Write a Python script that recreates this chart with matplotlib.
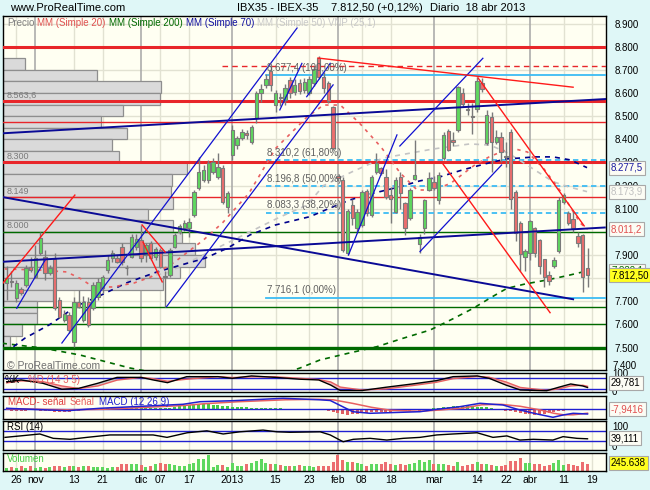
import matplotlib
matplotlib.use("Agg")
import matplotlib.pyplot as plt
import matplotlib.transforms as mtransforms
from matplotlib.patches import Rectangle
import numpy as np

plt.rcParams['font.family'] = ['Liberation Sans', 'DejaVu Sans']

# ---------------- data (daily candles, 24 oct 2012 .. 18 abr 2013) ----------------
opens = [7779, 7787, 7713, 7753, 7771, 7847, 7807, 7907, 7893, 7821,
         7881, 7706, 7619, 7641, 7526, 7698, 7619, 7698, 7670, 7720,
         7756, 7835, 7886, 7886, 7936, 7845, 7893, 7936, 7965, 7900,
         7950, 7890, 7922, 7810, 7814, 7936, 8001, 8018, 8015, 8073,
         8188, 8224, 8224, 8260, 8238, 8275, 8109, 8332, 8375, 8404,
         8429, 8390, 8492, 8601, 8634, 8696, 8548, 8584, 8570, 8656,
         8605, 8645, 8613, 8600, 8642, 8750, 8670, 8642, 8541, 8240,
         8224, 7907, 8116, 8015, 8030, 8178, 8073, 8260, 8274, 8239,
         8160, 8087, 8239, 8123, 8058, 8230, 7948, 8015, 8181, 8217,
         8138, 8318, 8437, 8395, 8440, 8598, 8532, 8500, 8529, 8642,
         8382, 8498, 8390, 8411, 8328, 8433, 8174, 8040, 7893, 7907,
         8015, 7965, 7881, 7814, 7853, 7919, 8130, 8083, 8054, 7982,
         7987, 7845]
highs = [7853, 7830, 7792, 7760, 7857, 7893, 7943, 8001, 7922, 7857,
         7907, 7720, 7663, 7655, 7720, 7749, 7723, 7720, 7785, 7800,
         7814, 7900, 7922, 7900, 7950, 7857, 7990, 7990, 8030, 7950,
         7960, 7935, 7930, 7830, 7930, 7995, 8035, 8050, 8058, 8180,
         8325, 8290, 8310, 8320, 8340, 8290, 8175, 8460, 8415, 8445,
         8440, 8462, 8610, 8640, 8680, 8720, 8612, 8600, 8640, 8670,
         8660, 8660, 8665, 8675, 8715, 8760, 8690, 8650, 8545, 8245,
         8235, 8100, 8140, 8100, 8180, 8185, 8245, 8340, 8280, 8270,
         8195, 8238, 8260, 8130, 8190, 8397, 7990, 8140, 8260, 8240,
         8260, 8430, 8445, 8430, 8630, 8620, 8555, 8555, 8670, 8665,
         8525, 8520, 8440, 8430, 8390, 8445, 8180, 8045, 7925, 8052,
         8020, 7970, 7885, 7830, 7890, 8150, 8170, 8090, 8090, 8000,
         7990, 7930]
lows = [7706, 7760, 7699, 7728, 7763, 7828, 7799, 7900, 7792, 7814,
        7663, 7627, 7612, 7562, 7504, 7670, 7612, 7591, 7663, 7706,
        7735, 7824, 7871, 7864, 7857, 7814, 7886, 7920, 7871, 7870,
        7880, 7880, 7845, 7677, 7805, 7930, 7990, 8005, 7980, 8065,
        8180, 8215, 8210, 8250, 8230, 8120, 8080, 8310, 8360, 8395,
        8400, 8380, 8470, 8560, 8620, 8610, 8520, 8545, 8550, 8580,
        8590, 8595, 8600, 8590, 8630, 8660, 8600, 8555, 8355, 8220,
        7915, 7900, 8030, 8000, 8020, 8070, 8065, 8250, 8245, 8140,
        8040, 8080, 8100, 7985, 8050, 8225, 7910, 7990, 8175, 8180,
        8120, 8310, 8350, 8370, 8430, 8540, 8505, 8425, 8520, 8605,
        8375, 8260, 8380, 8300, 8280, 8100, 7960, 7830, 7830, 7880,
        7890, 7820, 7760, 7770, 7845, 7910, 8120, 8030, 8000, 7935,
        7742, 7760]
closes = [7800, 7785, 7778, 7735, 7843, 7835, 7889, 7972, 7821, 7843,
          7670, 7634, 7645, 7576, 7698, 7677, 7698, 7598, 7771, 7785,
          7807, 7879, 7910, 7871, 7871, 7843, 7976, 7968, 7886, 7943,
          7886, 7925, 7850, 7804, 7922, 7986, 8025, 8040, 8044, 8174,
          8260, 8267, 8296, 8303, 8282, 8131, 8167, 8440, 8404, 8433,
          8419, 8455, 8601, 8616, 8659, 8634, 8598, 8577, 8621, 8600,
          8634, 8610, 8649, 8659, 8702, 8670, 8620, 8565, 8361, 8231,
          7922, 8092, 8058, 8087, 8174, 8080, 8239, 8299, 8253, 8152,
          8140, 8224, 8167, 8015, 8181, 8245, 7980, 8138, 8231, 8188,
          8246, 8418, 8354, 8390, 8627, 8552, 8527, 8496, 8653, 8616,
          8505, 8390, 8411, 8346, 8325, 8141, 7994, 7904, 7919, 8048,
          7907, 7853, 7806, 7789, 7878, 8138, 8159, 8040, 8015, 7950,
          7803, 7812.5]
volumes = [120, 144, 120, 168, 120, 168, 120, 144, 120, 144,
           192, 168, 144, 168, 192, 144, 168, 192, 144, 144,
           144, 120, 144, 144, 240, 240, 240, 264, 204, 144,
           168, 240, 288, 240, 240, 216, 192, 192, 264, 288,
           432, 432, 564, 144, 216, 216, 144, 288, 168, 192,
           264, 288, 360, 432, 288, 264, 264, 216, 168, 192,
           168, 216, 192, 168, 144, 168, 168, 192, 324, 564,
           408, 324, 324, 288, 240, 168, 240, 264, 264, 324,
           240, 204, 240, 204, 264, 288, 384, 324, 384, 264,
           240, 240, 204, 168, 324, 168, 204, 240, 312, 240,
           240, 204, 168, 168, 204, 360, 360, 480, 288, 288,
           240, 240, 192, 204, 288, 408, 204, 240, 204, 192,
           324, 245.638]

tick_pos = [2, 6, 14, 20, 28, 32, 38, 47, 56, 63, 69, 74, 80, 89, 98, 104, 109, 116, 122]
tick_labels = ['26', 'nov', '13', '21', 'dic', '07', '17', '2013', '15', '23',
               'feb', '08', '18', 'mar', '14', '22', 'abr', '11', '19']
month_labels = ['nov', 'dic', '2013', 'feb', 'mar', 'abr']

# moving averages (day index, value)
mm20_idx = [-0.4, 7, 12.5, 15.5, 18, 22, 26.5, 30, 35, 41, 45, 50.5, 56, 62.5, 66, 69.5,
            73.5, 78, 82, 85.5, 89, 92.5, 97.5, 100.5, 105, 108.5, 112, 115.5, 119.5, 121]
mm20_val = [7840, 7835, 7827, 7797, 7762, 7762, 7779, 7805, 7870, 7965, 8040, 8168, 8360, 8495,
            8548, 8548, 8470, 8366, 8254, 8181, 8181, 8210, 8289, 8324, 8363, 8345, 8270, 8172,
            8038, 8011]
mm200_idx = [-1, 7.6, 15.3, 25.7, 35, 45, 55, 61.1, 65.3, 71, 77.1, 82.5, 88.2, 93, 97.2,
             101, 104.2, 108, 112.5, 117, 121]
mm200_val = [7519, 7498, 7468, 7412, 7375, 7360, 7370, 7412, 7447, 7475, 7504, 7540, 7576,
             7625, 7670, 7718, 7756, 7775, 7792, 7812, 7832]
mm70_idx = [1.4, 3.8, 9, 14.6, 20, 25, 31.3, 36, 41.3, 46, 50.7, 56, 63.2, 67, 71.5, 76,
            81.9, 86, 90.3, 95, 100.1, 104, 106.9, 110, 113.8, 117.4, 120.9]
mm70_val = [7504, 7541, 7600, 7680, 7730, 7780, 7827, 7855, 7886, 7930, 7987, 8030, 8066,
            8100, 8138, 8165, 8195, 8220, 8238, 8268, 8296, 8315, 8319, 8324, 8324, 8311, 8277.5]
mm50_idx = [25, 33.4, 43.8, 52.8, 56.9, 62.6, 66, 72, 78.4, 88.8, 96.5, 100.7, 104.5, 108.4,
            113.8, 117, 120.9]
mm50_val = [7790, 7823, 7930, 8022, 8064, 8116, 8200, 8260, 8319, 8358, 8380, 8375, 8340,
            8289, 8217, 8195, 8173.9]

# volume-at-price profile (bin top price, relative volume)
vp_top = [8750, 8700, 8650, 8600, 8550, 8500, 8450, 8400, 8350, 8300, 8250, 8200, 8150,
          8100, 8050, 8000, 7950, 7900, 7850, 7800, 7750, 7700, 7650, 7600, 7550]
vp_vol = [22, 94, 158, 157, 120, 98, 124, 109, 116, 184, 169, 168, 170, 145, 170, 179, 192,
          202, 177, 160, 50, 34, 34, 19, 7]

# horizontal levels
red_thick_levels = [8800, 8563.6, 8300]
red_thin_levels = [8476, 8149]
green_thin_levels = [8000, 7675, 7600]
green_thick_levels = [7500]
red_dashed_level = (44.8, 8717)
fib_start = 54.0
fib_levels = [8677.4, 8310.2, 8196.8, 8083.3, 7716.1]
fib_texts = ['8.677,4 (100,00%)', '8.310,2 (61,80%)', '8.196,8 (50,00%)', '8.083,3 (38,20%)',
             '7.716,1 (0,00%)']
level_labels = [(8563.6, '8.563,6'), (8300, '8.300'), (8149, '8.149'), (8000, '8.000')]

# trend lines ((index, price), (index, price))
blue_long = [((-0.77, 8150), (118.0, 7709)), ((-0.77, 7871), (124.6, 8019)),
             ((-0.77, 8426), (124.85, 8574))]
blue_short = [((11.5, 7520), (60.5, 8881)), ((33.3, 7677), (68.0, 8635)),
              ((71.2, 7900), (81.3, 8419)), ((81.9, 8371), (99.2, 8750)),
              ((86.1, 7915), (103.1, 8289)), ((56.9, 8527), (61.5, 8728)),
              ((62.5, 8584), (67.4, 8728)), ((2.1, 7670), (8.0, 7878))]
red_trend = [((64.85, 8751), (118.0, 8625)), ((-0.77, 7779), (14.2, 8159)),
             ((28.2, 8030), (33.0, 7913)), ((28.4, 7956), (32.4, 7784)),
             ((90.9, 8293), (113.2, 7651)), ((98.2, 8665), (120.3, 8026))]

# oscillators
stoch_idx = [0, 3, 7.5, 11.5, 15, 19, 23, 28, 30.5, 33.5, 37.5, 44, 47, 51, 56, 61, 65, 67.5,
             69.5, 74, 79, 84.5, 89.5, 93, 98, 100.5, 104, 107, 112.5, 115, 117.5, 120, 121]
stoch_k = [61, 71, 53, 20, 25, 53, 85, 85, 71, 56, 89, 89, 80, 93, 85, 75, 71, 43, 13, 13,
           31, 49, 67, 89, 93, 80, 43, 16, 12, 31, 49, 38, 29.781]
stoch_d = [55, 66, 62, 38, 24, 38, 70, 85, 78, 64, 75, 89, 84, 88, 88, 80, 73, 60, 32, 16,
           22, 40, 58, 78, 90, 86, 60, 30, 14, 22, 38, 42, 36]
macd_idx = [0, 12.6, 19.4, 26.3, 36.7, 40.3, 47.1, 57.6, 65.3, 67.4, 72.1, 75.7, 86.1, 89.6,
            94.4, 98.6, 103.4, 106.9, 110.5, 113.8, 115.9, 118, 121]
macd_val = [10, -14, 10, 26, 50, 76, 86, 110, 95, 88, -24, -40, -24, 0, 26, 60, 43, -7, -47,
            -80, -57, -40, -47]
signal_idx = [0, 13, 20, 27, 37, 41, 48, 58, 65, 68, 72, 76, 80, 86, 90, 95, 99, 103, 107,
              111, 114, 116, 118, 121]
signal_val = [5, -5, 0, 15, 38, 55, 75, 95, 100, 95, 60, 20, -10, -20, -8, 12, 45, 50, 30, -5,
              -40, -55, -55, -39]
macd_hist = [-10, -12, -15, -15, -12, -8, -10, -15, -18, -20, -22, -25, -25,
             -22, -18, -12, -8, -3, 2, 6,
             10, 14, 18, 20, 20, 18, 16, 14, 14, 16, 18, 15, 12, 12,
             18, 25, 32, 38, 42, 48, 52, 55, 52, 48, 42, 35, 30, 28,
             25, 22, 20, 18, 17, 16, 15, 13, 11, 10, 8,
             6, 4, 2, 0, -2, -4, -6,
             -10, -18, -28, -38, -48, -52, -50, -45, -40, -35, -30, -28, -26, -24, -22, -20,
             -18, -15, -12, -10,
             -12, -8,
             5, 10, 15, 20, 25, 30, 32, 35, 33, 30, 28, 25, 20, 14,
             5, -5, -12, -20, -30, -38, -45, -50, -52, -50, -45, -38, -30, -20,
             -12, -5, 2, 4, -2, -7.9416]
rsi_idx = [-0.35, 2.8, 6.9, 9.7, 13.2, 16.7, 21.5, 26.3, 30.5, 33.4, 37.6, 41.7, 45.1, 48.6,
           53.4, 56.3, 59, 65.3, 67.4, 69.4, 70.1, 72.2, 75.7, 79.2, 82.6, 86.1, 89.6, 93,
           98, 101.3, 104.2, 106.9, 109.7, 113.8, 115.9, 118.8, 121]
rsi_val = [45, 51, 59, 41, 37, 45, 55, 55, 55, 45, 64, 72, 59, 68, 75, 68, 66, 68, 55, 34, 27,
           37, 41, 34, 41, 45, 55, 59, 64, 45, 51, 34, 37, 34, 48, 41, 39.111]

# ---------------- styling ----------------
W, H = 650, 490
BG = '#dff7f7'
PANEL = '#fffff2'
GREEN = '#5ed85e'
RED = '#ec6e6e'
EDGE = '#7a7a7a'
GRID_LIGHT = '#e2e2d2'
GRID_DARK = '#a6a6a6'
FS = 7.0
XMIN, XMAX = -0.77, 124.85

fig = plt.figure(figsize=(6.5, 4.9), dpi=100)
fig.patch.set_facecolor(BG)
renderer = fig.canvas.get_renderer()


def add_ax(x0, y0, x1, y1):
    a = fig.add_axes([x0 / W, 1 - y1 / H, (x1 - x0) / W, (y1 - y0) / H])
    a.set_facecolor(PANEL)
    a.set_xlim(XMIN, XMAX)
    for s in a.spines.values():
        s.set_color('black')
        s.set_linewidth(1)
    a.set_xticks([])
    a.tick_params(axis='both', length=0)
    for p, lab in zip(tick_pos, tick_labels):
        if lab in month_labels:
            a.axvline(p, color=GRID_DARK, lw=1.1, zorder=0.5)
        else:
            a.axvline(p, color=GRID_LIGHT, lw=1.0, zorder=0.5)
    return a


def ftext(x, y, s, **kw):
    kw.setdefault('fontsize', FS)
    kw.setdefault('va', 'center')
    return fig.text(x / W, 1 - y / H, s, **kw)


def seq_text(x, y, parts, gap, size=FS):
    for s, c in parts:
        t = ftext(x, y, s, color=c, fontsize=size)
        x += t.get_window_extent(renderer).width + gap


def fmt_price(v):
    v = int(round(v))
    return f"{v // 1000}.{v % 1000:03d}"


def vbox(a, val, s, fc, tc):
    t = mtransforms.blended_transform_factory(a.transAxes, a.transData)
    a.text(1.0 + 5 / 603, val, s, transform=t, fontsize=FS, color=tc, va='center',
           ha='left', clip_on=False, zorder=10,
           bbox=dict(boxstyle='square,pad=0.2', fc=fc, ec='#a8a8a8', lw=0.8))


def rtext(a, val, s):
    t = mtransforms.blended_transform_factory(a.transAxes, a.transData)
    a.text(1.0 + 6 / 603, val, s, transform=t, fontsize=FS, va='center', clip_on=False)


# ---------------- main price panel ----------------
ax = add_ax(3, 16, 606, 370)
ax.set_ylim(7403.4, 8932.6)
for v in range(7500, 8901, 100):
    ax.axhline(v, color=GRID_LIGHT, lw=1.0, zorder=0.4)
ax.yaxis.tick_right()
ax.set_yticks(list(range(7500, 8901, 100)))
ax.set_yticklabels([fmt_price(v) for v in range(7500, 8901, 100)], fontsize=FS)
ax.tick_params(axis='y', length=0, pad=6)
bt = mtransforms.blended_transform_factory(ax.transAxes, ax.transData)
ax.text(1.0 + 6 / 603, 7400, fmt_price(7400), transform=bt, fontsize=FS, va='bottom',
        clip_on=False)

# volume profile
vmax = max(vp_vol)
for top, vol in zip(vp_top, vp_vol):
    ax.add_patch(Rectangle((0, top - 50), vol / vmax * 0.335, 50, transform=bt,
                           fc='#dadada', ec='#8e8e8e', lw=0.9, zorder=1))
for lvl, lab in level_labels:
    ax.text(4 / 603, lvl + 8, lab, transform=bt, fontsize=FS - 0.5, color='#7a7a7a',
            va='bottom', zorder=6)

# horizontal levels
for v in red_thick_levels:
    ax.axhline(v, color='#e8262a', lw=2.2, zorder=3)
for v in red_thin_levels:
    ax.axhline(v, color='#e8262a', lw=1.0, zorder=3)
for v in green_thin_levels:
    ax.axhline(v, color='#006a00', lw=1.0, zorder=3)
for v in green_thick_levels:
    ax.axhline(v, color='#006a00', lw=2.4, zorder=3)
ax.plot([red_dashed_level[0], XMAX], [red_dashed_level[1]] * 2, color='#e8262a', lw=1.0,
        ls=(0, (4, 3)), zorder=3)
for k, (v, t) in enumerate(zip(fib_levels, fib_texts)):
    ls = '-' if k in (0, len(fib_levels) - 1) else (0, (3, 2))
    ax.plot([fib_start, XMAX], [v, v], color='#3cbcf4', lw=1.3, ls=ls, zorder=3)
    ax.text(fib_start + 0.3, v + 10, t, fontsize=FS, color='#606060', va='bottom', zorder=7)

# moving averages
ax.plot(mm200_idx, mm200_val, color='#006a00', lw=1.2, ls=(0, (3, 3)), zorder=3.5)
ax.plot(mm50_idx, mm50_val, color='#c4c4c4', lw=1.2, ls=(0, (3, 3)), zorder=3.5)
ax.plot(mm70_idx, mm70_val, color='#00008b', lw=1.2, ls=(0, (3, 3)), zorder=3.5)
ax.plot(mm20_idx, mm20_val, color='#e86060', lw=1.2, ls=(0, (2, 3)), zorder=3.5)

# candles
for i, (o, h, l, c) in enumerate(zip(opens, highs, lows, closes)):
    up = c >= o
    ax.plot([i, i], [l, h], color=EDGE, lw=1.0, zorder=4, solid_capstyle='butt')
    ax.add_patch(Rectangle((i - 0.37, min(o, c)), 0.74, max(abs(c - o), 2.0),
                           fc=GREEN if up else RED, ec=EDGE, lw=0.8, zorder=4.5))

# trend lines
for (a, b) in blue_long:
    ax.plot([a[0], b[0]], [a[1], b[1]], color='#0a0a96', lw=1.4, zorder=5)
for (a, b) in blue_short:
    ax.plot([a[0], b[0]], [a[1], b[1]], color='#1010d0', lw=0.9, zorder=5)
for (a, b) in red_trend:
    ax.plot([a[0], b[0]], [a[1], b[1]], color='#ff1a1a', lw=1.0, zorder=5)

vbox(ax, mm70_val[-1], '8.277,5', '#fcfcf4', '#1a1aa0')
vbox(ax, mm50_val[-1], '8.173,9', '#fcfcf4', '#c0c0c0')
vbox(ax, mm20_val[-1], '8.011,2', '#fcfcf4', '#e05050')
vbox(ax, mm200_val[-1], '7.832,1', '#fcfcf4', '#006a00')
vbox(ax, closes[-1], '7.812,50', '#ffff20', '#000000')

ax.text(4 / 603, 7422, '\u00a9 ProRealTime.com', transform=bt, fontsize=FS + 0.5,
        color='#707070', va='center')

# ---------------- stochastic ----------------
axs = add_ax(3, 373, 606, 392)
axs.set_ylim(5, 109)
axs.set_yticks([])
axs.axhline(80, color='#2020d0', lw=1.0)
axs.axhline(20, color='#2020d0', lw=1.0)
k = np.array(stoch_k)
d = np.array(stoch_d)
axs.fill_between(stoch_idx, k, d, where=k >= d, color='#c6c6c6', interpolate=True, lw=0)
axs.fill_between(stoch_idx, k, d, where=k < d, color='#f5b8b8', interpolate=True, lw=0)
axs.plot(stoch_idx, d, color='#e86060', lw=1.0)
axs.plot(stoch_idx, k, color='black', lw=1.0)
rtext(axs, 104, '100')
rtext(axs, 6, '0')
vbox(axs, 55, '29,781', '#fcfcf4', '#000000')

# ---------------- MACD ----------------
axm = add_ax(3, 395.5, 606, 418.5)
axm.set_ylim(-92, 138)
axm.set_yticks([])
axm.bar(range(len(macd_hist)), macd_hist, width=0.6,
        color=['#44cc44' if v >= 0 else '#e06060' for v in macd_hist], zorder=2)
axm.axhline(0, color='#2020d0', lw=1.0, zorder=2.5)
axm.plot(signal_idx, signal_val, color='#e86060', lw=1.1, zorder=3)
axm.plot(macd_idx, macd_val, color='#2020d0', lw=1.1, zorder=3)
vbox(axm, 0, '-7,9416', '#fcfcf4', '#e05050')

# ---------------- RSI ----------------
axr = add_ax(3, 421, 606, 449.5)
axr.set_ylim(-5, 112.5)
axr.set_yticks([])
axr.axhline(70, color='#2020d0', lw=1.0)
axr.axhline(30, color='#2020d0', lw=1.0)
axr.plot(rsi_idx, rsi_val, color='black', lw=1.0)
rtext(axr, 86, '100')
rtext(axr, 6, '0')
vbox(axr, 41, '39,111', '#fcfcf4', '#000000')

# ---------------- volume ----------------
axv = add_ax(3, 453, 606, 471)
axv.set_ylim(0, 648)
axv.set_yticks([])
axv.bar(range(len(volumes)), volumes, width=0.62,
        color=[GREEN if c >= o else RED for o, c in zip(opens, closes)], zorder=2)
vbox(axv, 300, '245.638', '#ffff20', '#000000')
axv.set_xticks(tick_pos)
axv.set_xticklabels(tick_labels, fontsize=FS + 0.5)
axv.tick_params(axis='x', length=0, pad=3)

# ---------------- header & panel titles ----------------
ftext(10, 8, 'www.ProRealTime.com', fontsize=8)
ftext(318, 8, 'IBX35 - IBEX-35', fontsize=8, ha='right')
ftext(331, 8, '7.812,50 (+0,12%)', fontsize=8)
ftext(430, 8, 'Diario  18 abr 2013', fontsize=8)

seq_text(7, 23, [('Precio', '#808080'), ('MM (Simple 20)', '#e05050'),
                 ('MM (Simple 200)', '#006a00'), ('MM (Simple 70)', '#1010a0'),
                 ('MM (Simple 50)', '#c8c8c8'), ('VNP (25,1)', '#c8c8c8')], 3)
seq_text(5, 380, [('%K', 'black'), ('%D (14 3 5)', '#e86060')], 8)
seq_text(8, 402, [('MACD- señal', '#e04040'), ('Señal', '#e86060'),
                  ('MACD (12 26 9)', '#2020d0')], 4)
seq_text(7, 427, [('RSI (14)', 'black')], 3)
seq_text(7, 459, [('Volumen', '#44cc44')], 3)

fig.savefig('out.png', dpi=100, facecolor=BG)
